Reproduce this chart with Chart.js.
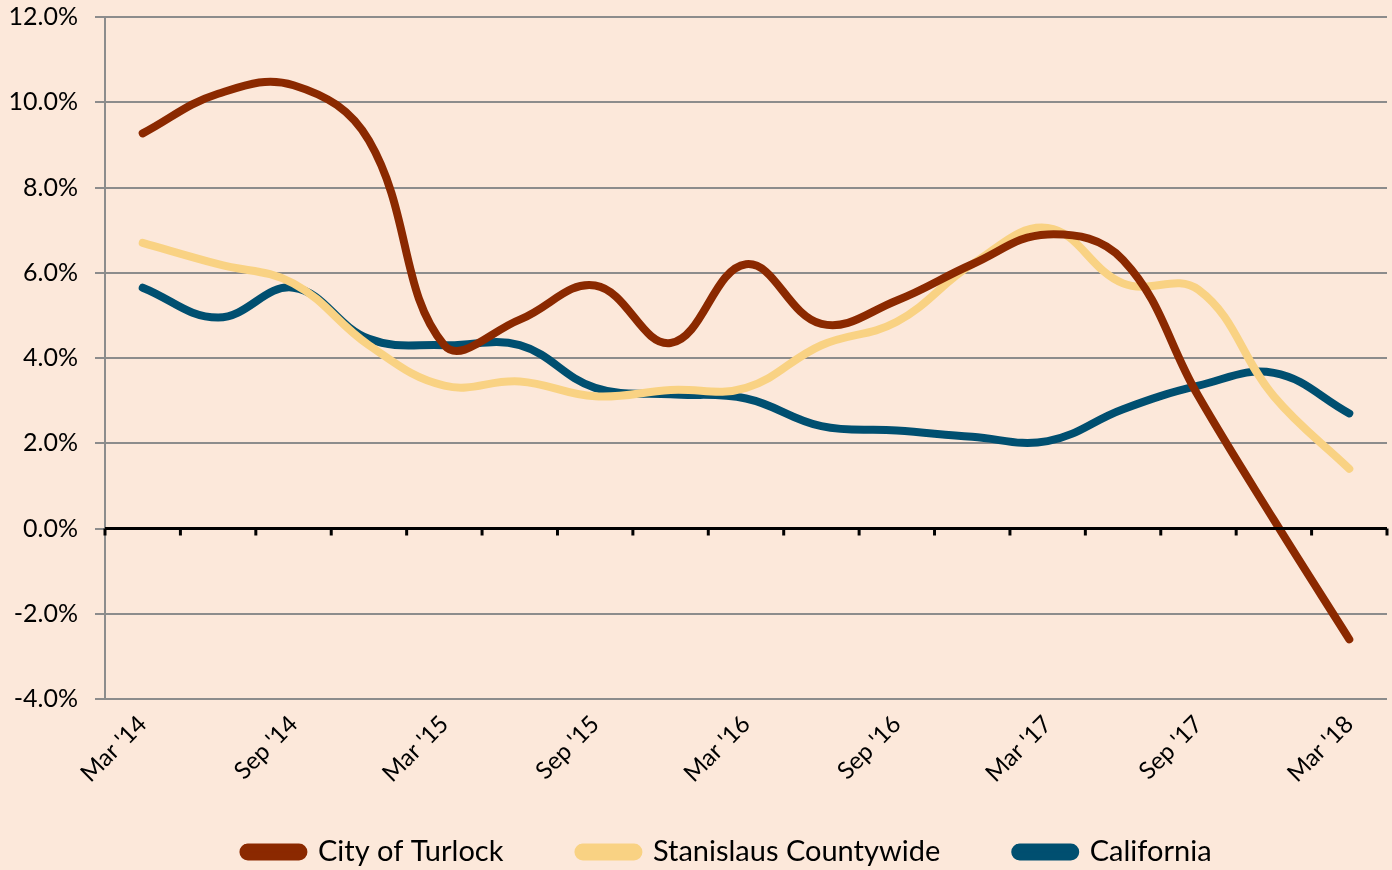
<!DOCTYPE html>
<html>
<head>
<meta charset="utf-8">
<script src="https://cdn.jsdelivr.net/npm/chart.js@4"></script>
<style>
  html, body { margin: 0; padding: 0; background: #fce8da; }
  #wrap { width: 1392px; height: 870px; }
</style>
</head>
<body>
<div id="wrap"><canvas id="chart"></canvas></div>
<script>
const quarters = ["Mar '14", "Jun '14", "Sep '14", "Dec '14", "Mar '15", "Jun '15", "Sep '15", "Dec '15",
    "Mar '16", "Jun '16", "Sep '16", "Dec '16", "Mar '17", "Jun '17", "Sep '17", "Dec '17", "Mar '18"];
const turlock = [9.27, 10.2, 10.4, 9.1, 4.3, 4.9, 5.7, 4.35, 6.2, 4.8, 5.35, 6.2, 6.9, 6.3, 3.1, 0.2, -2.6];
const stanislaus = [6.7, 6.2, 5.75, 4.3, 3.35, 3.45, 3.1, 3.25, 3.3, 4.3, 4.85, 6.2, 7.05, 5.75, 5.6, 3.1, 1.4];
const california = [5.65, 4.95, 5.65, 4.45, 4.3, 4.3, 3.3, 3.15, 3.05, 2.4, 2.3, 2.15, 2.05, 2.8, 3.35, 3.65, 2.7];

const seriesColors = { turlock: '#8b2900', stanislaus: '#f9d283', california: '#004f70' };
const fontFamily = "Lato, 'Open Sans', sans-serif";
const legendPad = 75;

const zeroAxis = {
    id: 'zeroAxis',
    beforeLayout(chart) {
        // wide gaps between legend items but a short legend box
        const lg = chart.legend;
        if (lg && !lg._short) {
            const fit = lg.fit;
            lg.fit = function () { fit.call(this); this.height = 40; };
            lg._short = true;
        }
    },
    afterLayout(chart) {
        const lg = chart.legend;
        lg.left += 34; lg.right += 34;
        lg.top = 852 - legendPad - 14.5;
    },
    // zero line with small tick marks at category boundaries
    afterDatasetsDraw(chart) {
        const { ctx, scales: { x, y }, chartArea } = chart;
        const y0 = y.getPixelForValue(0);
        ctx.save();
        ctx.strokeStyle = '#000';
        ctx.lineWidth = 3;
        ctx.beginPath();
        ctx.moveTo(chartArea.left, y0);
        ctx.lineTo(chartArea.right, y0);
        ctx.stroke();
        const step = (x.getPixelForValue(1) - x.getPixelForValue(0));
        for (let i = 0; i <= quarters.length; i++) {
            const px = x.getPixelForValue(0) - step / 2 + i * step;
            ctx.beginPath();
            ctx.moveTo(px, y0);
            ctx.lineTo(px, y0 + 7);
            ctx.stroke();
        }
        ctx.restore();
    }
};

const makeSet = (label, data, color) => ({
    label: label,
    data: data,
    borderColor: color,
    backgroundColor: color,
    borderWidth: 8,
    borderCapStyle: 'round',
    pointRadius: 0,
    tension: 0.4,
    fill: false
});

new Chart(document.getElementById('chart'), {
    type: 'line',
    data: {
        labels: quarters,
        datasets: [
            makeSet('City of Turlock', turlock, seriesColors.turlock),
            makeSet('Stanislaus Countywide', stanislaus, seriesColors.stanislaus),
            makeSet('California', california, seriesColors.california)
        ]
    },
    options: {
        responsive: true,
        maintainAspectRatio: false,
        animation: false,
        layout: { padding: { top: 0, right: 5, left: 0, bottom: 0 } },
        scales: {
            x: {
                offset: true,
                grid: { display: false },
                border: { display: false },
                afterFit: (scale) => { scale.height = 131; },
                ticks: {
                    autoSkip: false,
                    maxRotation: 45,
                    minRotation: 45,
                    color: '#000',
                    font: { family: fontFamily, size: 24 },
                    callback: (value, index) => index % 2 === 0 ? quarters[index] : ''
                }
            },
            y: {
                min: -4,
                max: 12,
                afterFit: (scale) => {
                    scale.width = 105;
                    scale.paddingTop = 17;
                    scale.paddingBottom = 0;
                },
                ticks: {
                    stepSize: 2,
                    padding: 17,
                    color: '#000',
                    font: { family: fontFamily, size: 25 },
                    callback: (v) => v.toFixed(1) + '%'
                },
                grid: { color: '#8c8c8c', lineWidth: 2, tickLength: 10 },
                border: { color: '#8c8c8c', width: 2 }
            }
        },
        plugins: {
            legend: {
                position: 'bottom',
                labels: {
                    color: '#000',
                    font: { family: fontFamily, size: 29 },
                    boxWidth: 60,
                    boxHeight: 9,
                    padding: legendPad,
                    useBorderRadius: true,
                    borderRadius: 4.5
                }
            },
            tooltip: { enabled: false }
        }
    },
    plugins: [zeroAxis]
});
</script>
</body>
</html>
